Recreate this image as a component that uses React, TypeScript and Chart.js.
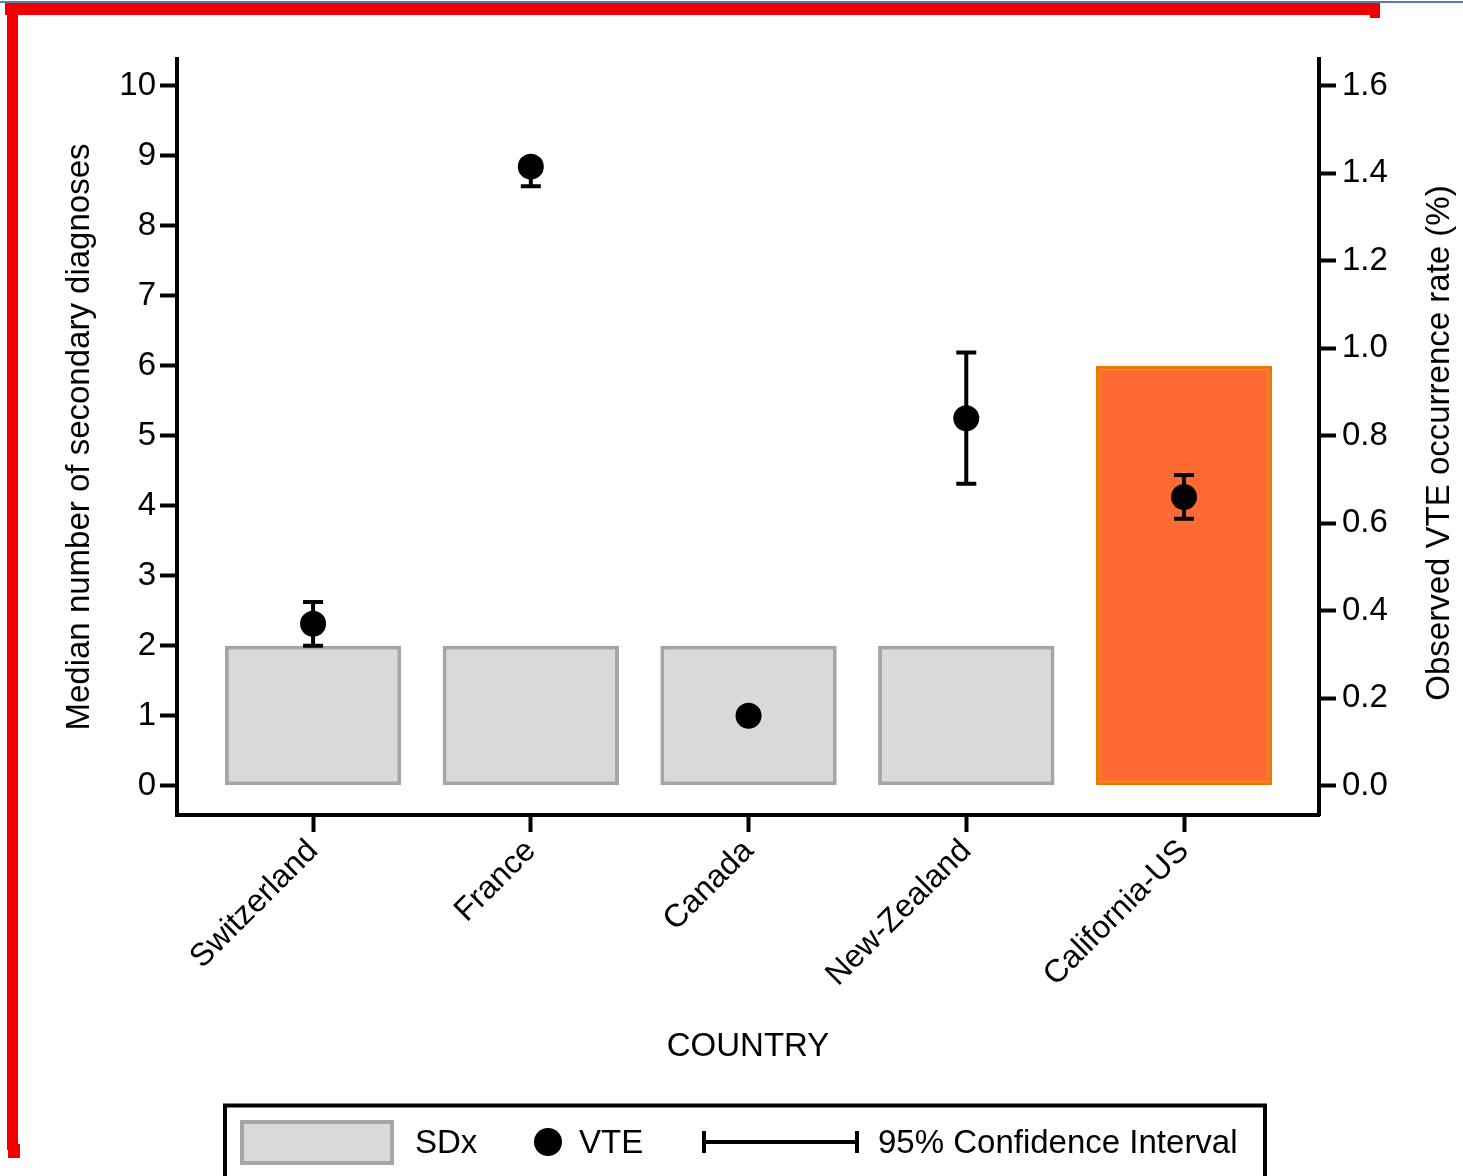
import React, { useEffect, useRef } from "react";
import { Chart, registerables } from "chart.js";

Chart.register(...registerables);

// ---- data ----
const countries = ["Switzerland", "France", "Canada", "New-Zealand", "California-US"];
const sdxMedian = [2, 2, 2, 2, 6];
const vteRate = [0.37, 1.415, 0.16, 0.84, 0.66];
const vteLow = [0.32, 1.37, 0.15, 0.69, 0.61];
const vteHigh = [0.42, 1.43, 0.17, 0.99, 0.71];
const leftTicks = [0, 1, 2, 3, 4, 5, 6, 7, 8, 9, 10];
const rightTicks = [0, 0.2, 0.4, 0.6, 0.8, 1.0, 1.2, 1.4, 1.6];
const highlighted = "California-US";

// ---- styling ----
const FONT = '"Liberation Sans", Arial, Helvetica, sans-serif';
const W = 1463;
const H = 1176;
const GRAY_FILL = "#d9d9d9";
const GRAY_EDGE = "#a5a5a5";
const ORANGE_FILL = "#ff6a33";
const ORANGE_EDGE = "#e47c00";

const errorBarsPlugin = {
  id: "errorBars",
  afterDatasetsDraw(chart: any) {
    const { ctx, scales } = chart;
    const x = scales.x;
    const y1 = scales.y1;
    ctx.save();
    ctx.strokeStyle = "#000";
    ctx.lineWidth = 4;
    ctx.lineCap = "butt";
    countries.forEach((_, i) => {
      const px = x.getPixelForValue(i);
      const top = y1.getPixelForValue(vteHigh[i]);
      const bot = y1.getPixelForValue(vteLow[i]);
      ctx.beginPath();
      ctx.moveTo(px, top);
      ctx.lineTo(px, bot);
      ctx.moveTo(px - 10, top);
      ctx.lineTo(px + 10, top);
      ctx.moveTo(px - 10, bot);
      ctx.lineTo(px + 10, bot);
      ctx.stroke();
    });
    ctx.restore();
  },
};

const extrasPlugin = {
  id: "extras",
  afterDraw(chart: any) {
    const { ctx, chartArea } = chart;
    ctx.save();
    // right axis title, reading bottom to top
    ctx.font = `33px ${FONT}`;
    ctx.fillStyle = "#000";
    ctx.translate(1440, (chartArea.top + chartArea.bottom) / 2 + 6);
    ctx.rotate(-Math.PI / 2);
    ctx.textAlign = "center";
    ctx.textBaseline = "middle";
    ctx.fillText("Observed VTE occurrence rate (%)", 0, 0);
    ctx.restore();

    // legend
    ctx.save();
    ctx.strokeStyle = "#000";
    ctx.lineWidth = 4;
    ctx.strokeRect(225, 1105.5, 1040, 120);

    ctx.fillStyle = GRAY_FILL;
    ctx.fillRect(240, 1120, 154, 45);
    ctx.strokeStyle = GRAY_EDGE;
    ctx.lineWidth = 4;
    ctx.strokeRect(242, 1122, 150, 41);

    ctx.fillStyle = "#000";
    ctx.font = `33px ${FONT}`;
    ctx.textAlign = "left";
    ctx.textBaseline = "alphabetic";
    ctx.fillText("SDx", 415, 1153);

    ctx.beginPath();
    ctx.arc(548, 1142, 14, 0, Math.PI * 2);
    ctx.fill();
    ctx.fillText("VTE", 579, 1153);

    ctx.strokeStyle = "#000";
    ctx.lineWidth = 4;
    ctx.beginPath();
    ctx.moveTo(704, 1142);
    ctx.lineTo(857, 1142);
    ctx.moveTo(704, 1131);
    ctx.lineTo(704, 1153);
    ctx.moveTo(857, 1131);
    ctx.lineTo(857, 1153);
    ctx.stroke();
    ctx.fillText("95% Confidence Interval", 878, 1153);
    ctx.restore();
  },
};

export default function App() {
  const canvasRef = useRef<HTMLCanvasElement | null>(null);

  useEffect(() => {
    const canvas = canvasRef.current;
    if (!canvas) return;

    const isHi = (i: number) => countries[i] === highlighted;

    const chart = new Chart(canvas, {
      type: "bar",
      data: {
        datasets: [
          {
            type: "line",
            label: "VTE",
            data: countries.map((_, i) => ({ x: i, y: vteRate[i] })),
            xAxisID: "x",
            yAxisID: "y1",
            showLine: false,
            pointStyle: "circle",
            pointRadius: 13,
            pointHoverRadius: 13,
            pointBackgroundColor: "#000",
            pointBorderColor: "#000",
            pointBorderWidth: 0,
            order: 1,
          } as any,
          {
            type: "bar",
            label: "SDx",
            data: countries.map((_, i) => ({ x: i, y: sdxMedian[i] })),
            xAxisID: "x",
            yAxisID: "y",
            backgroundColor: (c: any) => (isHi(c.dataIndex) ? ORANGE_FILL : GRAY_FILL),
            borderColor: (c: any) => (isHi(c.dataIndex) ? ORANGE_EDGE : GRAY_EDGE),
            borderWidth: 4,
            borderSkipped: false,
            categoryPercentage: 1,
            barPercentage: 0.81,
            order: 2,
          } as any,
        ],
      },
      options: {
        animation: false,
        responsive: false,
        events: [],
        layout: { padding: { top: 59, left: 0, right: 0, bottom: 109.2 } },
        plugins: {
          legend: { display: false },
          tooltip: { enabled: false },
        },
        scales: {
          x: {
            type: "linear",
            position: "bottom",
            min: -0.625,
            max: 4.62,
            offset: false,
            afterBuildTicks: (s: any) => {
              s.ticks = countries.map((_, i) => ({ value: i }));
            },
            afterFit: (s: any) => {
              s.height = 251.8;
            },
            grid: {
              offset: false,
              drawOnChartArea: false,
              drawTicks: true,
              tickLength: 17,
              tickWidth: 4,
              tickColor: "#000",
              color: "#000",
            },
            border: { display: true, color: "#000", width: 4 },
            ticks: {
              autoSkip: false,
              minRotation: 45,
              maxRotation: 45,
              padding: 14,
              color: "#000",
              font: { family: FONT, size: 32, lineHeight: 0 },
              callback: (_v: any, idx: number) => countries[idx],
            },
            title: {
              display: true,
              text: "COUNTRY",
              color: "#000",
              font: { family: FONT, size: 33 },
              padding: { top: 0, bottom: 0 },
            },
          },
          y: {
            type: "linear",
            position: "left",
            min: -0.419,
            max: 10.381,
            afterBuildTicks: (s: any) => {
              s.ticks = leftTicks.map((v) => ({ value: v }));
            },
            afterFit: (s: any) => {
              s.width = 177;
            },
            grid: {
              drawOnChartArea: false,
              drawTicks: true,
              tickLength: 17,
              tickWidth: 4,
              tickColor: "#000",
              color: "#000",
            },
            border: { display: true, color: "#000", width: 4 },
            ticks: {
              padding: 4,
              color: "#000",
              font: { family: FONT, size: 33 },
              callback: (v: any) => String(v),
            },
            title: {
              display: true,
              text: "Median number of secondary diagnoses",
              color: "#000",
              font: { family: FONT, size: 33 },
              padding: { top: 60, bottom: 0 },
            },
          },
          y1: {
            type: "linear",
            position: "right",
            min: -0.067,
            max: 1.661,
            afterBuildTicks: (s: any) => {
              s.ticks = rightTicks.map((v) => ({ value: v }));
            },
            afterFit: (s: any) => {
              s.width = W - 1319;
            },
            grid: {
              drawOnChartArea: false,
              drawTicks: true,
              tickLength: 17,
              tickWidth: 4,
              tickColor: "#000",
              color: "#000",
            },
            border: { display: true, color: "#000", width: 4 },
            ticks: {
              padding: 6,
              color: "#000",
              font: { family: FONT, size: 33 },
              callback: (v: any) => Number(v).toFixed(1),
            },
            title: { display: false },
          },
        },
      } as any,
      plugins: [errorBarsPlugin, extrasPlugin],
    });

    return () => chart.destroy();
  }, []);

  return (
    <div style={{ position: "absolute", left: 0, top: 0, width: W, height: H, background: "#fff", overflow: "hidden" }}>
      <canvas ref={canvasRef} width={W} height={H} style={{ display: "block" }} />
      {/* page frame strokes */}
      <div style={{ position: "absolute", left: 0, top: 1, width: W, height: 2, background: "#4f81bd" }} />
      <div style={{ position: "absolute", left: 5, top: 3, width: 1375, height: 12, background: "#f00000" }} />
      <div style={{ position: "absolute", left: 1370, top: 3, width: 10, height: 15, background: "#f00000" }} />
      <div style={{ position: "absolute", left: 7, top: 3, width: 11, height: 1147, background: "#f00000" }} />
      <div style={{ position: "absolute", left: 8, top: 1144, width: 12, height: 14, background: "#f00000" }} />
    </div>
  );
}
